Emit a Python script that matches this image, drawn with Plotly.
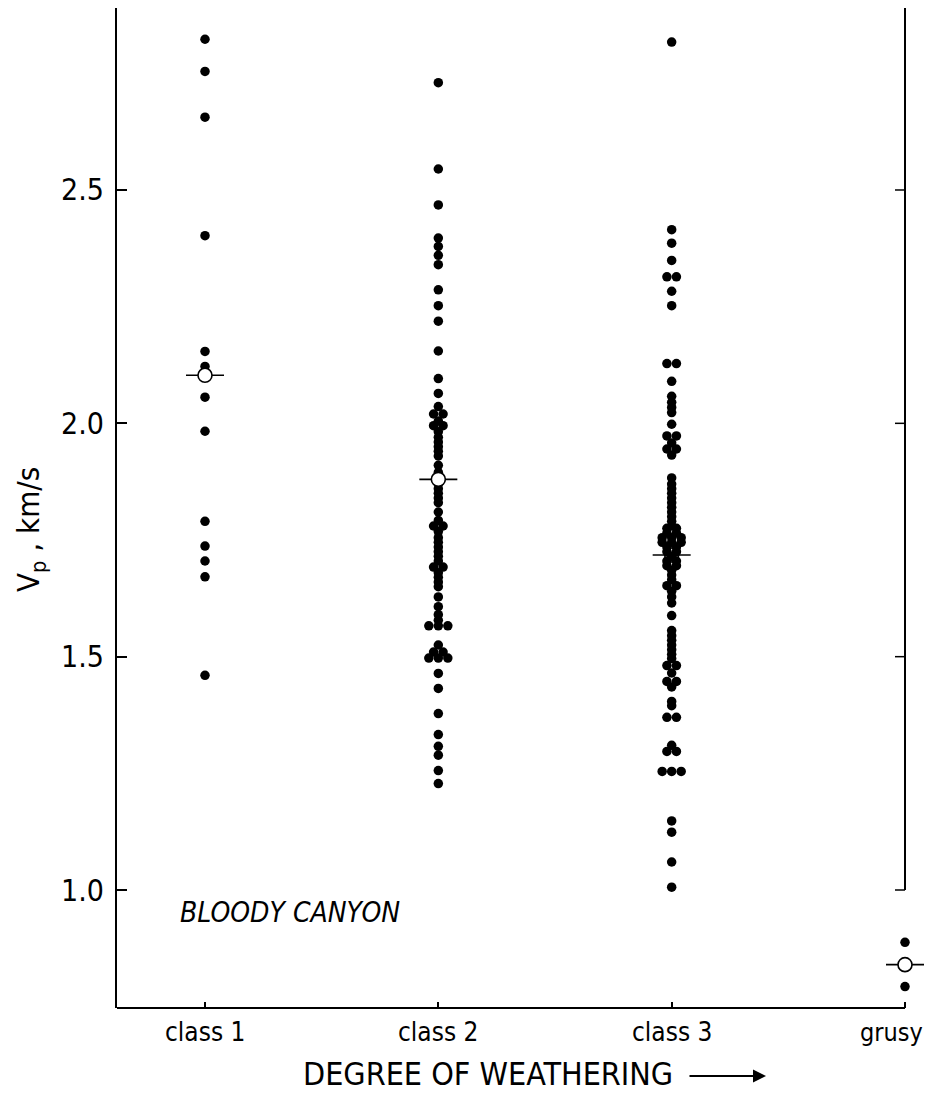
import plotly.graph_objects as go

# ---------------- data ----------------
categories = ["class 1", "class 2", "class 3", "grusy"]
cat_pos = [1, 2, 3, 4]

class1_vp = [2.823, 2.754, 2.656, 2.402, 2.154, 2.122, 2.056, 1.983,
             1.790, 1.737, 1.705, 1.671, 1.460]

class2_vp = [2.730, 2.545, 2.468, 2.397, 2.379, 2.360, 2.340, 2.286, 2.252,
             2.219, 2.155, 2.096, 2.064,
             2.036, 2.020, 2.020, 2.005, 1.995, 1.995, 1.982, 1.970, 1.960,
             1.950, 1.940, 1.930, 1.910,
             1.895, 1.880, 1.870, 1.860, 1.850, 1.840, 1.830, 1.810,
             1.792, 1.780, 1.780, 1.768, 1.755, 1.745, 1.735, 1.725, 1.715,
             1.705, 1.692, 1.692, 1.680, 1.670, 1.660, 1.650, 1.628, 1.607,
             1.590, 1.578, 1.566, 1.566, 1.566,
             1.525, 1.510, 1.510, 1.497, 1.497, 1.497,
             1.464, 1.432, 1.378, 1.333, 1.308, 1.289, 1.256, 1.228]

class3_vp = [2.817, 2.415, 2.386, 2.349, 2.314, 2.314, 2.283, 2.252,
             2.128, 2.128, 2.090, 2.058, 2.045, 2.034, 2.023, 1.998,
             1.973, 1.973, 1.958, 1.945, 1.945, 1.932,
             1.883, 1.870, 1.860, 1.850, 1.840, 1.830, 1.820, 1.810, 1.800,
             1.790, 1.780, 1.775, 1.775, 1.765, 1.765, 1.755, 1.755, 1.755,
             1.745, 1.745, 1.745, 1.735, 1.735, 1.725, 1.725, 1.715,
             1.705, 1.705, 1.695, 1.695, 1.685, 1.675,
             1.665, 1.652, 1.652, 1.640, 1.628, 1.615, 1.588,
             1.556, 1.545, 1.535, 1.525, 1.515, 1.505, 1.496,
             1.481, 1.481, 1.465, 1.447, 1.447, 1.435, 1.404, 1.395,
             1.370, 1.370, 1.310, 1.297, 1.297, 1.254, 1.254, 1.254,
             1.148, 1.124, 1.060, 1.006]

grusy_vp = [0.888, 0.793]

mean_vp = [2.103, 1.880, 1.718, 0.840]
mean_on_top = [True, True, False, True]

ytick_vals = [1.0, 1.5, 2.0, 2.5]
ytick_text = ["1.0", "1.5", "2.0", "2.5"]

# ---------------- geometry (figure px; page adds an 8 px body margin) ----------------
W, H = 917, 1086
ML = 109
PLOT_BOTTOM = 1000
MB = H - PLOT_BOTTOM
PLOT_W = W - ML
X1_PX, X4_PX = 197, 897
PX_PER_X = (X4_PX - X1_PX) / 3
X_RANGE = [1 - (X1_PX - ML) / PX_PER_X, 4 + (W - X4_PX) / PX_PER_X]
Y1_PX = 882                      # pixel row of Vp = 1.0
PX_PER_Y = 466.67
Y_RANGE = [1.0 - (PLOT_BOTTOM - Y1_PX) / PX_PER_Y, 1.0 + Y1_PX / PX_PER_Y]

DOT_D = 9.5                     # dot diameter in px
DX = DOT_D / PX_PER_X           # side-by-side spacing in x units
BAR_HALF = 19 / PX_PER_X        # half-length of mean crossbar
TICK_X = 10 / PX_PER_X

FONT = "Liberation Sans Narrow, Arial Narrow, DejaVu Sans Condensed, sans-serif"


def px_to_paper_x(px):
    return (px - ML) / PLOT_W


def px_to_paper_y(py):
    return (PLOT_BOTTOM - py) / PLOT_BOTTOM


def swarm(xc, vals):
    """Place identical values side by side around the column centre."""
    groups = {}
    for v in vals:
        groups.setdefault(round(v, 3), []).append(v)
    xs, ys = [], []
    for key, g in groups.items():
        n = len(g)
        for i, v in enumerate(g):
            xs.append(xc + (i - (n - 1) / 2) * DX)
            ys.append(v)
    return xs, ys


series = [class1_vp, class2_vp, class3_vp, grusy_vp]

fig = go.Figure()


def add_mean(i):
    c = cat_pos[i]
    m = mean_vp[i]
    fig.add_trace(go.Scatter(x=[c - BAR_HALF, c + BAR_HALF], y=[m, m], mode="lines",
                             line=dict(color="black", width=1.6), cliponaxis=False,
                             hoverinfo="skip", showlegend=False))
    fig.add_trace(go.Scatter(x=[c], y=[m], mode="markers", cliponaxis=False,
                             marker=dict(size=14, color="white",
                                         line=dict(color="black", width=1.6)),
                             showlegend=False))


for i in range(len(cat_pos)):
    if not mean_on_top[i]:
        add_mean(i)

for i, vals in enumerate(series):
    xs, ys = swarm(cat_pos[i], vals)
    fig.add_trace(go.Scatter(x=xs, y=ys, mode="markers", cliponaxis=False,
                             marker=dict(size=DOT_D, color="black", line=dict(width=0)),
                             name=categories[i], showlegend=False))

for i in range(len(cat_pos)):
    if mean_on_top[i]:
        add_mean(i)

# ---------------- frame pieces ----------------
shapes = []
# right border (stops at 1.0)
shapes.append(dict(type="line", xref="x", yref="y", x0=4, x1=4,
                   y0=ytick_vals[0], y1=Y_RANGE[1], line=dict(color="black", width=2)))
for t in ytick_vals:
    shapes.append(dict(type="line", xref="x", yref="y", x0=4 - TICK_X, x1=4,
                       y0=t, y1=t, line=dict(color="black", width=1.5)))
# bottom axis line
shapes.append(dict(type="line", xref="x", yref="paper", x0=X_RANGE[0], x1=4,
                   y0=0, y1=0, line=dict(color="black", width=2)))

annotations = [
    dict(x=0.884, y=0.951, xref="x", yref="y", text="BLOODY CANYON", showarrow=False,
         xanchor="left", yanchor="middle",
         font=dict(family=FONT, size=28, color="black", style="italic")),
    dict(x=px_to_paper_x(22), y=px_to_paper_y(522),
         xref="paper", yref="paper", text="V<sub>p</sub> , km/s", showarrow=False,
         textangle=-90, xanchor="center", yanchor="middle",
         font=dict(family=FONT, size=31, color="black")),
    dict(x=px_to_paper_x(480), y=px_to_paper_y(1066), xref="paper", yref="paper",
         text="DEGREE OF WEATHERING", showarrow=False, xanchor="center", yanchor="middle",
         font=dict(family=FONT, size=32, color="black")),
    dict(x=px_to_paper_x(758), y=px_to_paper_y(1068), xref="paper", yref="paper",
         ax=-78, ay=0, axref="pixel", ayref="pixel", text="", showarrow=True,
         arrowhead=2, arrowsize=1.3, arrowwidth=2, arrowcolor="black"),
]

# category labels under the axis (last one kept inside the page edge)
for i, (c, lab) in enumerate(zip(cat_pos, categories)):
    last = i == len(cat_pos) - 1
    annotations.append(dict(
        x=px_to_paper_x(W) if last else c, xref="paper" if last else "x",
        y=px_to_paper_y(1024), yref="paper", text=lab, showarrow=False,
        xanchor="right" if last else "center", yanchor="middle",
        font=dict(family=FONT, size=25 if last else 26, color="black")))

fig.update_layout(
    width=W, height=H,
    margin=dict(l=ML, r=0, t=0, b=MB),
    paper_bgcolor="white", plot_bgcolor="white",
    shapes=shapes, annotations=annotations,
    showlegend=False,
    xaxis=dict(range=X_RANGE, tickvals=cat_pos, showticklabels=False,
               showgrid=False, zeroline=False, showline=False,
               ticks="inside", ticklen=6, tickwidth=1.5, tickcolor="black"),
    yaxis=dict(range=Y_RANGE, tickvals=ytick_vals, ticktext=ytick_text,
               showgrid=False, zeroline=False, showline=True, linecolor="black",
               linewidth=2, ticks="inside", ticklen=10, tickwidth=1.5, tickcolor="black",
               ticklabelstandoff=5,
               tickfont=dict(family=FONT, size=30, color="black")),
)

fig.write_html("out.html")
